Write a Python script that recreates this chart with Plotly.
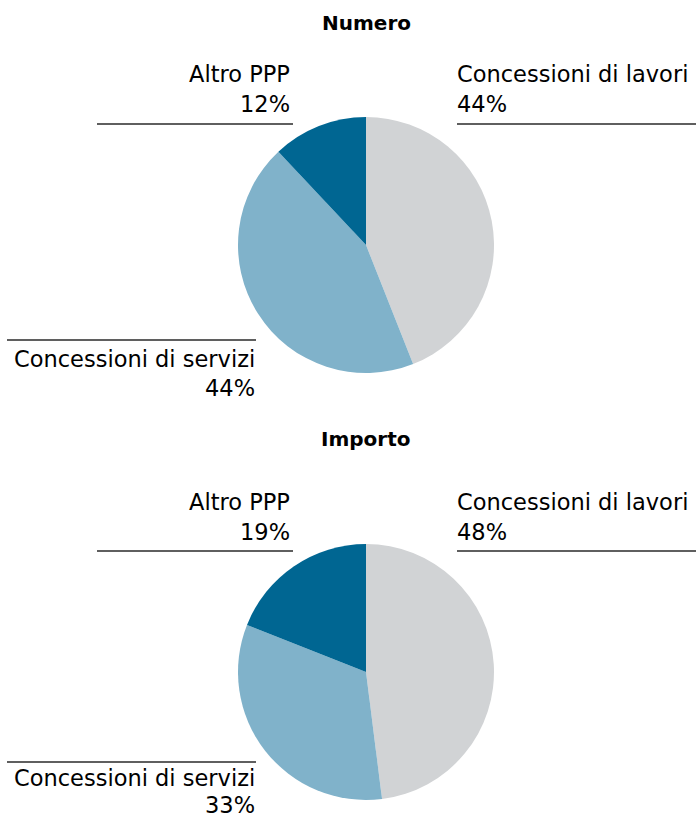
import plotly.graph_objects as go

W, H = 696, 818

categories = ["Concessioni di lavori", "Concessioni di servizi", "Altro PPP"]
numero_values = [44, 44, 12]
importo_values = [48, 33, 19]
panel_titles = ["Numero", "Importo"]
colors = ["#d1d3d5", "#80b2ca", "#006692"]

FONT = "DejaVu Sans"
FS = 22.5


def px(x):
    return x / W


def py(y):
    return 1 - y / H


fig = go.Figure()

# layout per panel (pixel positions of pie centre, title, labels)
panels = [
    dict(vals=numero_values, cy=245, title_y=23, top_name=74.5, top_pct=104.3, top_line=124,
         bot_line=340, bot_name=359.5, bot_pct=387.5),
    dict(vals=importo_values, cy=672, title_y=439, top_name=502, top_pct=531.5, top_line=551,
         bot_line=762, bot_name=778, bot_pct=804.5),
]

R = 128
CX = 366


def label(text, x, y, anchor):
    fig.add_annotation(text=text, x=px(x), y=py(y), xref="paper", yref="paper",
                       showarrow=False, xanchor=anchor, yanchor="middle",
                       borderpad=0, font=dict(family=FONT, size=FS, color="#000"))


def hline(x0, x1, y):
    fig.add_shape(type="line", xref="paper", yref="paper",
                  x0=px(x0), x1=px(x1), y0=py(y), y1=py(y),
                  line=dict(color="#2a2a2a", width=1.5))


for p, title in zip(panels, panel_titles):
    vals = p["vals"]
    cy = p["cy"]
    fig.add_trace(go.Pie(
        labels=categories,
        values=vals,
        sort=False,
        direction="clockwise",
        rotation=0,
        marker=dict(colors=colors, line=dict(width=0)),
        textinfo="none",
        hoverinfo="label+percent",
        showlegend=False,
        domain=dict(x=[px(CX - R), px(CX + R)], y=[py(cy + R), py(cy - R)]),
    ))
    fig.add_annotation(text=f"<b>{title}</b>", x=px(CX), y=py(p["title_y"]),
                       xref="paper", yref="paper", showarrow=False,
                       xanchor="center", yanchor="middle", borderpad=0,
                       font=dict(family=FONT, size=20, color="#000"))
    tot = sum(vals)
    pct = [round(v / tot * 100) for v in vals]
    # Altro PPP (top-left)
    label(categories[2], 291, p["top_name"], "right")
    label(f"{pct[2]}%", 291, p["top_pct"], "right")
    hline(97, 293, p["top_line"])
    # Concessioni di lavori (top-right)
    label(categories[0], 456, p["top_name"], "left")
    label(f"{pct[0]}%", 456, p["top_pct"], "left")
    hline(457, 696, p["top_line"])
    # Concessioni di servizi (bottom-left)
    label(categories[1], 256, p["bot_name"], "right")
    label(f"{pct[1]}%", 256, p["bot_pct"], "right")
    hline(7, 256, p["bot_line"])

fig.update_layout(
    width=W, height=H,
    margin=dict(l=0, r=0, t=0, b=0),
    paper_bgcolor="white",
    plot_bgcolor="white",
    font=dict(family=FONT, color="#000"),
)

fig.write_html("out.html", config={"displayModeBar": False},
               post_script="document.body.style.margin='0px';")
